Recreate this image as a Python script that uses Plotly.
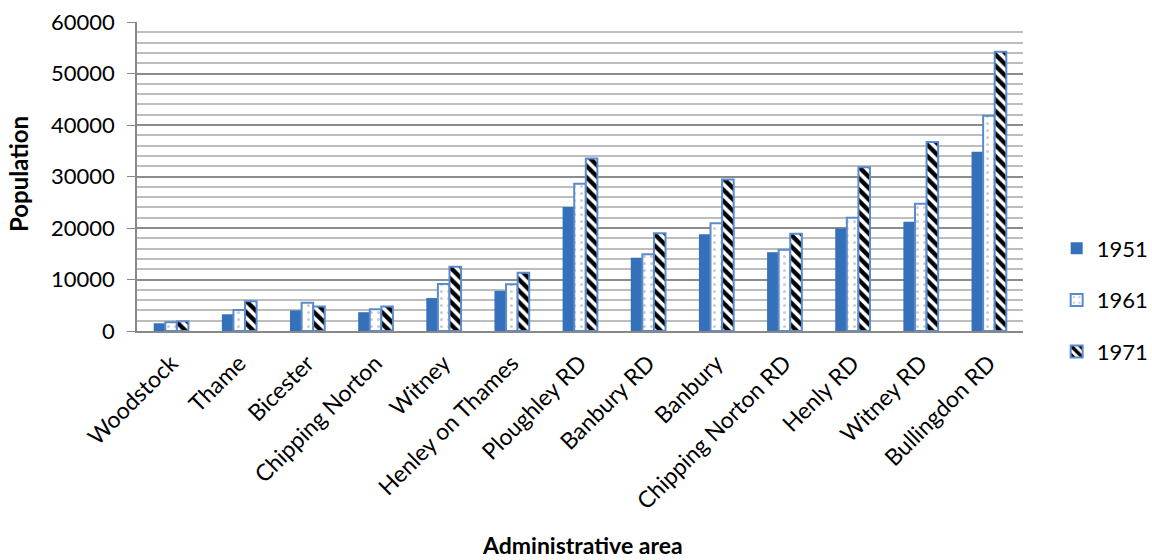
import plotly.graph_objects as go

# Population of Oxfordshire administrative areas by census year
areas = ["Woodstock", "Thame", "Bicester", "Chipping Norton", "Witney",
         "Henley on Thames", "Ploughley RD", "Banbury RD", "Banbury",
         "Chipping Norton RD", "Henly RD", "Witney RD", "Bullingdon RD"]
pop_1951 = [1500, 3250, 4000, 3650, 6400, 7800, 24100, 14200, 18800, 15300, 19900, 21200, 34800]
pop_1961 = [1700, 4100, 5500, 4200, 9150, 9100, 28600, 14900, 20900, 15800, 22000, 24700, 41800]
pop_1971 = [1900, 5800, 4750, 4750, 12500, 11300, 33500, 19000, 29400, 18900, 31800, 36700, 54200]

FONT = "Lato, Carlito, Calibri, sans-serif"
OUTLINE = "#5B8BCF"

fig = go.Figure()
fig.add_trace(go.Bar(
    name="1951", x=areas, y=pop_1951, legendgroup="a",
    marker=dict(color="#3570BA", line=dict(color="#3570BA", width=0)),
))
fig.add_trace(go.Bar(
    name="1961", x=areas, y=pop_1961, legendgroup="b",
    marker=dict(color="white", line=dict(color=OUTLINE, width=2),
                pattern=dict(shape=".", fgcolor="#999999", bgcolor="white",
                             size=7, solidity=0.15, fillmode="overlay")),
))
fig.add_trace(go.Bar(
    name="1971", x=areas, y=pop_1971, legendgroup="c",
    marker=dict(color="white", line=dict(color=OUTLINE, width=2),
                pattern=dict(shape="\\", fgcolor="#000000", bgcolor="white",
                             fgopacity=1, size=8, solidity=0.55, fillmode="overlay")),
))

fig.update_layout(
    width=1152, height=560,
    margin=dict(l=137, r=129, t=22, b=229, autoexpand=False),
    paper_bgcolor="white", plot_bgcolor="white",
    barmode="group", bargap=0.49, bargroupgap=0.0,
    font=dict(family=FONT, size=22, color="black"),
    showlegend=True,
    legend=dict(x=1.038, y=0.335, xanchor="left", yanchor="top",
                tracegroupgap=20, traceorder="grouped",
                font=dict(family=FONT, size=22), itemwidth=30,
                bgcolor="rgba(0,0,0,0)"),
    xaxis=dict(
        tickangle=-45, showline=True, linecolor="#888888", linewidth=1.5,
        showgrid=False, tickfont=dict(family=FONT, size=23),
        ticks="", ticklabelstandoff=8, fixedrange=True,
    ),
    yaxis=dict(
        range=[0, 60000], dtick=10000, tickformat="d",
        showline=True, linecolor="#888888", linewidth=1.5,
        ticks="outside", ticklen=8, tickcolor="#888888",
        ticklabelstandoff=8,
        showgrid=True, gridcolor="#8C8C8C", gridwidth=1.5,
        minor=dict(dtick=2000, showgrid=True, gridcolor="#BDBDBD", gridwidth=1.5),
        zeroline=False, tickfont=dict(family=FONT, size=22),
        fixedrange=True,
    ),
    annotations=[
        dict(text="<b>Administrative area</b>", xref="paper", yref="paper",
             x=(582 - 137) / 886, y=(331 - 545) / 309, xanchor="center", yanchor="middle",
             showarrow=False, font=dict(family=FONT, size=23)),
        dict(text="<b>Population</b>", xref="paper", yref="paper",
             x=(18 - 137) / 886, y=(331 - 174) / 309, xanchor="center", yanchor="middle",
             textangle=-90, showarrow=False, font=dict(family=FONT, size=24)),
    ],
)

fig.write_html("out.html")
